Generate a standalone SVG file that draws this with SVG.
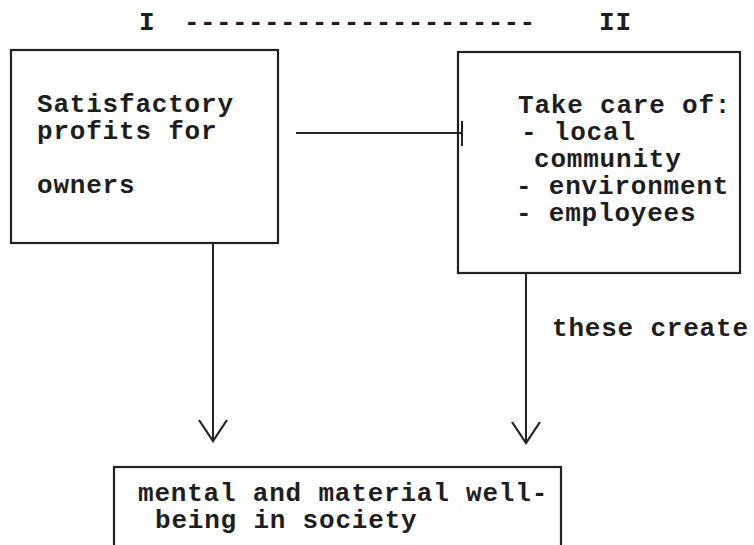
<svg xmlns="http://www.w3.org/2000/svg" width="754" height="545" viewBox="0 0 754 545">
  <style>
    .box { fill: #fff; stroke: #222; stroke-width: 2.2; }
    .edge { fill: none; stroke: #222; stroke-width: 2; }
    .t { font-family: "Liberation Mono", "DejaVu Sans Mono", monospace; font-size: 26px; font-weight: bold; fill: #1e1e1e; letter-spacing: 0.8px; }
  </style>
  <defs>
    <marker id="vhead" markerUnits="userSpaceOnUse" markerWidth="30" markerHeight="32" orient="auto" refX="0" refY="0" overflow="visible">
      <path d="M-21,-14 L0,0 L-21,14" fill="none" stroke="#222" stroke-width="2.2"/>
    </marker>
  </defs>
  <rect width="754" height="545" fill="#fff"/>

  <!-- heading: I, a dashed rule, II -->
  <g id="heading">
    <text class="t" x="139" y="30">I</text>
    <text class="t" x="184" y="30" textLength="352" lengthAdjust="spacing">----------------------</text>
    <text class="t" x="599" y="30">II</text>
  </g>

  <!-- node I: profits -->
  <g id="node-profits">
    <rect class="box" x="11" y="50" width="267" height="193"/>
    <text class="t" x="37" y="112">Satisfactory</text>
    <text class="t" x="37" y="139">profits for</text>
    <text class="t" x="37" y="193">owners</text>
  </g>

  <!-- node II: responsibilities -->
  <g id="node-care">
    <rect class="box" x="458" y="52" width="282" height="221"/>
    <text class="t" x="518" y="113">Take care of:</text>
    <text class="t" x="521" y="140">- local</text>
    <text class="t" x="534" y="167">community</text>
    <text class="t" x="516" y="194">- environment</text>
    <text class="t" x="516" y="221">- employees</text>
  </g>

  <!-- outcome node -->
  <g id="node-wellbeing">
    <rect class="box" x="114" y="467" width="447" height="100"/>
    <text class="t" x="138" y="501">mental and material well-</text>
    <text class="t" x="155" y="528">being in society</text>
  </g>

  <!-- connectors -->
  <g id="connectors">
    <line class="edge" x1="296" y1="133" x2="462" y2="133"/>
    <line class="edge" x1="462" y1="121" x2="462" y2="146"/>
    <line class="edge" x1="213" y1="243" x2="213" y2="441" marker-end="url(#vhead)"/>
    <line class="edge" x1="526" y1="273" x2="526" y2="443" marker-end="url(#vhead)"/>
    <text class="t" x="552" y="336">these create</text>
  </g>
</svg>
